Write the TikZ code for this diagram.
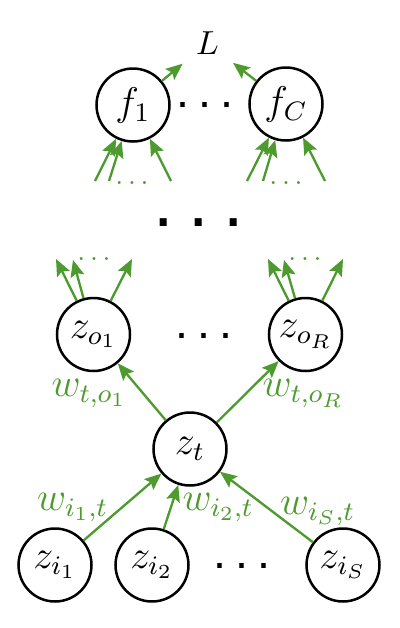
\documentclass[tikz,border=0pt]{standalone}
\usepackage{fontspec}
\newfontfamily\dotfont{Liberation Sans}
\usetikzlibrary{arrows.meta}
\definecolor{wgreen}{RGB}{77,155,46}
\newcommand{\sqdots}[2]{{\dotfont\fontsize{#1}{#1}\selectfont .\kern#2.\kern#2.}}
\begin{document}
\begin{tikzpicture}[x=0.3pt,y=-0.3pt,
  neuron/.style={circle,draw,line width=0.75pt,minimum size=21.9pt,inner sep=0pt,font=\large},
  arr/.style={wgreen,line width=0.7pt,-{Stealth[length=5pt,width=4.2pt,inset=0.9pt]}},
  lbl/.style={wgreen,font=\large,inner sep=1pt},
  gdots/.style={wgreen,font=\footnotesize,inner sep=0pt,anchor=base},
  mdots/.style={inner sep=0pt,anchor=base},
  bdots/.style={inner sep=0pt,anchor=base}]
\useasboundingbox (0,0) rectangle (400,628);
% nodes
\node[circle,minimum size=19pt,inner sep=0pt] (L) at (207.5,43) {$L$};
\node[neuron] (f1) at (133,105) {$f_1$};
\node[neuron] (fC) at (286,104) {$f_C$};
\node[neuron] (zo1) at (93.5,334.5) {$z_{o_1}$};
\node[neuron] (zoR) at (305.5,334.5) {$z_{o_R}$};
\node[neuron] (zt) at (190,449) {$z_t$};
\node[neuron] (zi1) at (55,565) {$z_{i_1}$};
\node[neuron] (zi2) at (152,565) {$z_{i_2}$};
\node[neuron] (ziS) at (343,565) {$z_{i_S}$};
% dots
\node[mdots] (dtop) at (205,107) {\sqdots{14}{2.7pt}};
\node[bdots] (dbig) at (199,226) {\sqdots{22}{4.4pt}};
\node[mdots] (dmid) at (204,338) {\sqdots{14}{2.7pt}};
\node[mdots] (dbot) at (242,568) {\sqdots{14}{2.7pt}};
\node[gdots] (gf1) at (132,184) {$\ldots$};
\node[gdots] (gfC) at (286,184) {$\ldots$};
\node[gdots] (gzo1) at (94,260) {$\ldots$};
\node[gdots] (gzoR) at (305,260) {$\ldots$};
% free ends
\coordinate (f1a) at (95,181);
\coordinate (f1b) at (109,181);
\coordinate (f1c) at (171,181);
\coordinate (fCa) at (247,181);
\coordinate (fCb) at (263,181);
\coordinate (fCc) at (325,181);
\coordinate (zo1a) at (56,259);
\coordinate (zo1b) at (73,260);
\coordinate (zo1c) at (132,259);
\coordinate (zoRa) at (268,259);
\coordinate (zoRb) at (284,260);
\coordinate (zoRc) at (343,259);
% connectors
\draw[arr] (f1) -- (L);
\draw[arr] (fC) -- (L);
\foreach \c in {f1a,f1b,f1c} \draw[arr] (\c) -- (f1);
\foreach \c in {fCa,fCb,fCc} \draw[arr] (\c) -- (fC);
\foreach \c in {zo1a,zo1b,zo1c} \draw[arr] (zo1) -- (\c);
\foreach \c in {zoRa,zoRb,zoRc} \draw[arr] (zoR) -- (\c);
\draw[arr] (zt) -- node[lbl,pos=0.8,anchor=north east,xshift=1.2pt] {$w_{t,o_1}$} (zo1);
\draw[arr] (zt) -- node[lbl,pos=0.776,anchor=north west,xshift=-2pt] {$w_{t,o_R}$} (zoR);
\draw[arr] (zi1) -- node[lbl,pos=0.29,anchor=south east,xshift=2pt,yshift=-1.5pt] {$w_{i_1,t}$} (zt);
\draw[arr] (zi2) -- node[lbl,pos=0.53,anchor=west,xshift=2pt,yshift=-0.5pt] {$w_{i_2,t}$} (zt);
\draw[arr] (ziS) -- node[lbl,pos=0.51,anchor=west,xshift=3pt,yshift=-1.5pt] {$w_{i_S,t}$} (zt);
\end{tikzpicture}
\end{document}
